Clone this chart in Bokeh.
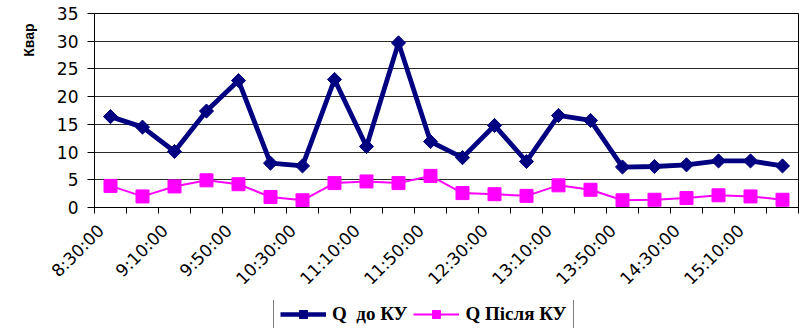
import math
from bokeh.plotting import figure
from bokeh.layouts import column
from bokeh.models import Range1d, FixedTicker, Title, Legend, LegendItem
from bokeh.embed import file_html
from bokeh.resources import INLINE

times = ["8:30:00", "8:50:00", "9:10:00", "9:30:00", "9:50:00", "10:10:00",
         "10:30:00", "10:50:00", "11:10:00", "11:30:00", "11:50:00", "12:10:00",
         "12:30:00", "12:50:00", "13:10:00", "13:30:00", "13:50:00", "14:10:00",
         "14:30:00", "14:50:00", "15:10:00", "15:30:00"]
q_before = [16.4, 14.5, 10.1, 17.4, 22.9, 8.0, 7.5, 23.1, 11.0, 29.7, 11.9,
            9.0, 14.8, 8.3, 16.6, 15.7, 7.3, 7.4, 7.7, 8.4, 8.4, 7.5]
q_after = [3.9, 2.0, 3.8, 4.9, 4.2, 1.9, 1.3, 4.4, 4.7, 4.4, 5.7,
           2.6, 2.4, 2.1, 4.0, 3.2, 1.3, 1.4, 1.7, 2.2, 2.0, 1.4]
y_ticks = [0, 5, 10, 15, 20, 25, 30, 35]
name_before = "Q  до КУ"
name_after = "Q Після КУ"
y_title = "Квар"

NAVY = "#000080"
MAGENTA = "#FF00FF"

n = len(times)
xs = [i + 0.5 for i in range(n)]

p = figure(width=799, height=300, output_backend="svg", toolbar_location=None,
           x_range=Range1d(0, n), y_range=Range1d(0, 35),
           min_border_left=94, min_border_right=1, min_border_top=13,
           min_border_bottom=93)
p.background_fill_color = "white"
p.border_fill_color = "white"
p.outline_line_color = "black"
p.outline_line_width = 1

# grid
p.xgrid.grid_line_color = None
p.ygrid.grid_line_color = "#2a2a2a"
p.ygrid.grid_line_width = 1
p.ygrid.ticker = FixedTicker(ticks=y_ticks)

# y axis
p.yaxis.ticker = FixedTicker(ticks=y_ticks, minor_ticks=[])
p.yaxis.axis_line_color = "black"
p.yaxis.major_tick_line_color = "black"
p.yaxis.major_tick_out = 7
p.yaxis.major_tick_in = 0
p.yaxis.minor_tick_line_color = None
p.yaxis.major_label_text_font = "DejaVu Sans"
p.yaxis.major_label_text_font_size = "17px"
p.yaxis.major_label_text_color = "black"
p.yaxis.major_label_standoff = 9

# x axis: labels on every other time, anchored slightly left of the point
lab_shift = 0.3
label_ticks = [xs[i] - lab_shift for i in range(0, n, 2)]
p.xaxis.ticker = FixedTicker(ticks=label_ticks, minor_ticks=list(range(n + 1)))
p.xaxis.major_label_overrides = {xs[i] - lab_shift: times[i] for i in range(0, n, 2)}
p.xaxis.major_tick_line_color = None
p.xaxis.minor_tick_line_color = "black"
p.xaxis.minor_tick_out = 6
p.xaxis.minor_tick_in = 0
p.xaxis.axis_line_color = "black"
p.xaxis.major_label_orientation = math.pi / 4
p.xaxis.major_label_text_font = "DejaVu Sans"
p.xaxis.major_label_text_font_size = "17px"
p.xaxis.major_label_text_color = "black"
p.xaxis.major_label_standoff = 14

# series
p.line(xs, q_before, line_color=NAVY, line_width=4.8)
p.scatter(xs, q_before, marker="square", angle=math.pi / 4, size=10,
          fill_color=NAVY, line_color=NAVY)
p.line(xs, q_after, line_color=MAGENTA, line_width=2)
p.scatter(xs, q_after, marker="square", size=13,
          fill_color=MAGENTA, line_color=MAGENTA)

# y title (top of the left side)
t = Title(text=y_title, align="right", text_font="Liberation Sans",
          text_font_size="14px", text_font_style="bold", text_color="black",
          standoff=34, offset=10)
p.add_layout(t, "left")

# legend strip below the chart (hidden copies of the series feed the legend glyphs)
lg = figure(width=799, height=28, output_backend="svg", toolbar_location=None,
            x_range=Range1d(0, 1), y_range=Range1d(0, 1),
            min_border_left=0, min_border_right=0, min_border_top=0,
            min_border_bottom=0, x_axis_type=None, y_axis_type=None)
lg.outline_line_color = None
lg.xgrid.grid_line_color = None
lg.ygrid.grid_line_color = None
r1 = lg.line(xs, q_before, line_color=NAVY, line_width=4.5, visible=False)
r1m = lg.scatter(xs, q_before, marker="square", angle=math.pi / 4, size=8,
                 fill_color=NAVY, line_color=NAVY, visible=False)
r2 = lg.line(xs, q_after, line_color=MAGENTA, line_width=2, visible=False)
r2m = lg.scatter(xs, q_after, marker="square", size=11,
                 fill_color=MAGENTA, line_color=MAGENTA, visible=False)

legend = Legend(items=[LegendItem(label=name_before, renderers=[r1, r1m]),
                       LegendItem(label=name_after, renderers=[r2, r2m])],
                orientation="horizontal", location=(179, -4))
legend.click_policy = "none"
legend.inactive_fill_alpha = 0
legend.border_line_color = "black"
legend.border_line_width = 1
legend.background_fill_color = "white"
legend.background_fill_alpha = 1
legend.label_text_font = "Liberation Serif"
legend.label_text_font_style = "bold"
legend.label_text_font_size = "19px"
legend.label_text_color = "black"
legend.glyph_width = 46
legend.glyph_height = 20
legend.label_height = 20
legend.label_standoff = 6
legend.spacing = 6
legend.padding = 6
legend.margin = 0
lg.add_layout(legend, "center")

open("out.html", "w").write(file_html(column(p, lg, spacing=0), INLINE))
